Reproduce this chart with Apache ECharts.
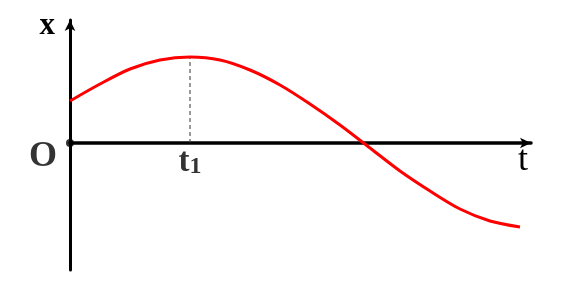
<!DOCTYPE html>
<html>
<head>
<meta charset="utf-8">
<script src="https://cdn.jsdelivr.net/npm/echarts@6/dist/echarts.min.js"></script>
<style>html,body{margin:0;padding:0;background:#fff}#c{width:565px;height:285px}</style>
</head>
<body>
<div id="c"></div>
<script>
// Curve samples (t, x)
const tValues = [0, 30, 60, 90, 120, 150, 180, 210, 240, 270, 300, 330, 360, 390, 420, 450];
const xValues = [42, 59, 74, 83, 86, 83, 73, 58, 39, 18, -5, -28, -48, -66, -78, -84];
// Marked instant t1 and its displacement (peak)
const t1Value = 120;
const peakValue = 86;
// Axis ranges
const tRange = [0, 461];
const xRange = [-127, 123];
// Text labels
const yAxisName = 'x';
const xAxisName = 't';
const originLabel = 'O';
const tickLabelMain = 't';
const tickLabelSub = '1';

const serif = '"Liberation Serif", "DejaVu Serif", serif';
const chart = echarts.init(document.getElementById('c'), null, {renderer: 'canvas'});
chart.setOption({
  animation: false,
  grid: {left: 70, right: 34, top: 20, bottom: 15, containLabel: false, outerBoundsMode: 'none'},
  xAxis: {
    type: 'value', min: tRange[0], max: tRange[1],
    axisLine: {onZero: true, lineStyle: {color: '#000', width: 3.5}, symbol: ['none', 'arrow'], symbolSize: [8, 11]},
    axisTick: {show: false},
    splitLine: {show: false},
    axisLabel: {show: false},
    name: xAxisName,
    nameLocation: 'end',
    nameGap: -8,
    nameTextStyle: {fontFamily: serif, fontSize: 36, color: '#000', align: 'center', verticalAlign: 'top'}
  },
  yAxis: {
    type: 'value', min: xRange[0], max: xRange[1],
    axisLine: {onZero: true, lineStyle: {color: '#000', width: 3}, symbol: ['none', 'arrow'], symbolSize: [8, 11]},
    axisTick: {show: false},
    splitLine: {show: false},
    axisLabel: {show: false},
    name: yAxisName,
    nameLocation: 'end',
    nameGap: -21,
    nameTextStyle: {fontFamily: serif, fontSize: 31, fontWeight: 'bold', color: '#000', align: 'right', verticalAlign: 'bottom', padding: [0, 15, 0, 0]}
  },
  series: [
    {
      type: 'line',
      data: [[t1Value, 0], [t1Value, peakValue]],
      showSymbol: false,
      lineStyle: {color: '#333', width: 1, type: [4, 3]},
      z: 1
    },
    {
      type: 'line',
      data: tValues.map((t, i) => [t, xValues[i]]),
      smooth: 0.3,
      showSymbol: false,
      lineStyle: {color: '#ff0000', width: 3},
      z: 3
    },
    {
      type: 'scatter',
      data: [
        {
          value: [0, 0], symbolSize: 8,
          label: {
            show: true, formatter: originLabel, position: 'left', distance: 9, offset: [0, 14],
            fontFamily: serif, fontSize: 36, fontWeight: 'bold', color: '#000'
          }
        },
        {
          value: [t1Value, 0], symbolSize: 0,
          label: {
            show: true, position: 'bottom', distance: 3,
            formatter: '{a|' + tickLabelMain + '}{b|' + tickLabelSub + '}',
            rich: {
              a: {fontFamily: serif, fontSize: 33, fontWeight: 'bold', color: '#000'},
              b: {fontFamily: serif, fontSize: 24, fontWeight: 'bold', color: '#000', verticalAlign: 'bottom'}
            }
          }
        }
      ],
      itemStyle: {color: '#000'},
      z: 5
    }
  ]
});
</script>
</body>
</html>
